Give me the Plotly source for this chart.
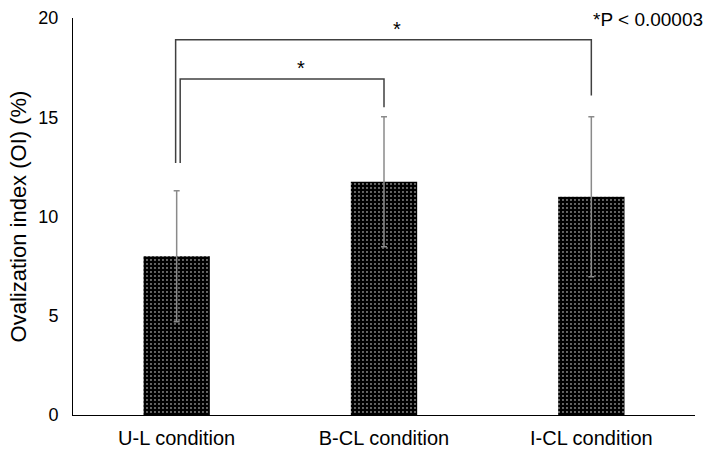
import plotly.graph_objects as go

categories = ["U-L condition", "B-CL condition", "I-CL condition"]
means = [8.0, 11.75, 11.0]
sds = [3.3, 3.27, 4.03]
yticks = [0, 5, 10, 15, 20]

# significance brackets: (left x, right x, top y, left-leg bottom, right-leg bottom, star x)
bracket_outer = [-0.005, 2.0, 18.9, 12.7, 16.1, 1.065]
bracket_inner = [0.017, 1.0, 16.93, 12.7, 15.5, 0.6]
note_text = "*P < 0.00003"

font_family = "Liberation Sans, Arial, sans-serif"

fig = go.Figure()
fig.add_trace(go.Bar(
    x=[0, 1, 2],
    y=means,
    width=0.32,
    marker=dict(
        color="black",
        line=dict(width=0),
        pattern=dict(shape=".", fgcolor="white", bgcolor="black", size=4, solidity=0.1, fillmode="replace"),
    ),
    error_y=dict(type="data", array=sds, visible=True, color="#8a8a8a", thickness=1.5, width=3),
    showlegend=False,
))

shapes = []
annotations = []
for br in [bracket_outer, bracket_inner]:
    x0, x1, ytop, yl, yr, xs = br
    shapes.append(dict(type="path", xref="x", yref="y",
                       path=f"M {x0},{yl} L {x0},{ytop} L {x1},{ytop} L {x1},{yr}",
                       line=dict(color="#404040", width=1.5)))
    annotations.append(dict(x=xs, y=ytop, xref="x", yref="y", text="*", showarrow=False,
                            yanchor="bottom", yshift=-2, font=dict(size=20, color="black", family=font_family)))

annotations.append(dict(x=1.016, y=1.0, xref="paper", yref="paper", xanchor="right", yanchor="middle",
                        text=note_text, showarrow=False, yshift=-1,
                        font=dict(size=19, color="black", family=font_family)))

fig.update_layout(
    width=709, height=450,
    margin=dict(l=73, r=14, t=18, b=35),
    paper_bgcolor="white", plot_bgcolor="white",
    font=dict(family=font_family, size=18, color="black"),
    shapes=shapes, annotations=annotations,
    xaxis=dict(range=[-0.5, 2.5], tickvals=[0, 1, 2], ticktext=categories, automargin=False,
               showgrid=False, zeroline=False, showline=True, linecolor="black", linewidth=1,
               ticks="", tickfont=dict(size=20), ticklabelstandoff=5),
    yaxis=dict(range=[0, 20], tickvals=yticks, showgrid=False, zeroline=False, automargin=False,
               showline=True, linecolor="black", linewidth=1, ticks="",
               tickfont=dict(size=18), ticklabelstandoff=10,
               title=dict(text="Ovalization index (OI) (%)", font=dict(size=22), standoff=5)),
)

fig.write_html("out.html", config={"displayModeBar": False},
               post_script="document.body.style.margin='0px';")
